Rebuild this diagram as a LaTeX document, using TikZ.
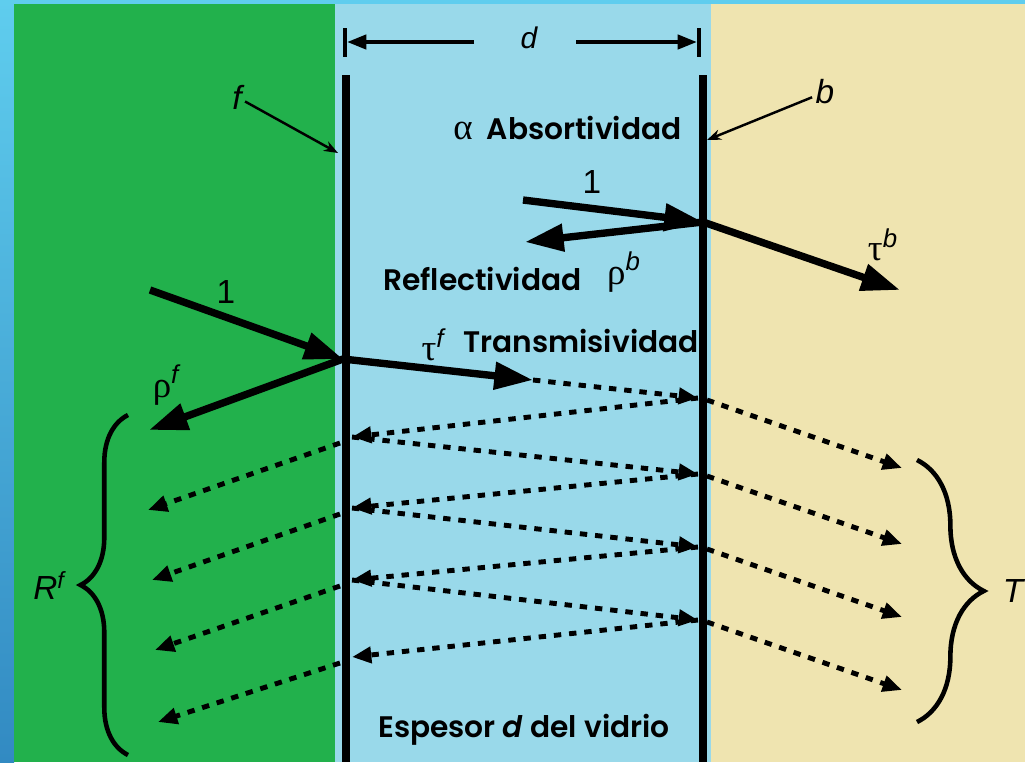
\documentclass[tikz,border=0pt]{standalone}
\usepackage{fontspec}
\setmainfont{Poppins}[UprightFont=* SemiBold, ItalicFont=* SemiBold Italic]
\newfontfamily\slantfont{Liberation Sans}
\newfontfamily\greekfont{Liberation Serif}
\usetikzlibrary{arrows.meta, decorations.pathreplacing}
\definecolor{leafgreen}{RGB}{34,177,76}
\definecolor{glassblue}{RGB}{153,217,234}
\definecolor{sandbeige}{RGB}{239,228,176}
\definecolor{framecyan}{RGB}{95,205,238}
\definecolor{framedeep}{RGB}{50,138,194}
\newcommand{\supit}[1]{\textsuperscript{\slantfont\itshape #1}}

\begin{document}
\begin{tikzpicture}[x=0.02cm, y=-0.02cm,
  ray/.style={line width=4.2pt, -{Triangle[length=22pt,width=15pt]}},
  echo/.style={line width=2.8pt, dash pattern=on 4.2pt off 4.5pt, -{Triangle[length=11pt,width=9pt]}},
  pointer/.style={line width=1.4pt, shorten <=2pt, -{Stealth[length=8pt,width=6pt]}},
  dimline/.style={line width=2.3pt, -{Triangle[length=11pt,width=8pt]}},
  wall/.style={line width=4pt},
  word/.style={font=\fontsize{16.9}{16.9}\selectfont, inner sep=0pt, anchor=base west},
  tag/.style={font=\fontsize{19}{19}\selectfont\slantfont\itshape, inner sep=0pt},
  numeral/.style={font=\fontsize{19}{19}\selectfont\slantfont, inner sep=0pt},
  greek/.style={font=\fontsize{21}{21}\selectfont\greekfont, inner sep=0pt},
  curly/.style={line width=2.6pt, decorate}]
  \useasboundingbox (0,0) rectangle (1025,762);
  % regions: outer frame, exterior, glass, interior
  \fill[framecyan] (0,0) rectangle (1025,762);
  \shade[top color=framecyan, bottom color=framedeep] (0,0) rectangle (14,762);
  \fill[leafgreen] (14,4) rectangle (335,762);
  \fill[glassblue] (335,4) rectangle (711,762);
  \fill[sandbeige] (711,4) rectangle (1025,762);
  \draw[wall] (346,75) -- (346,762);
  \draw[wall] (703,75) -- (703,762);

  % thickness d
  \draw[line width=2pt] (345,28) -- (345,57) (699,28) -- (699,57);
  \node[tag, font=\fontsize{17}{17}\selectfont\slantfont\itshape] (thick) at (529,38) {d};
  \coordinate (dl) at (347,42);
  \coordinate (dr) at (697,42);
  \coordinate (dtl) at (474,42);
  \coordinate (dtr) at (576,42);
  \draw[dimline] (dtl) -- (dl);
  \draw[dimline] (dtr) -- (dr);

  % faces f and b
  \node[tag] (flabel) at (237,97) {f};
  \coordinate (fhit) at (338,153);
  \draw[pointer] (flabel) -- (fhit);
  \node[tag] (blabel) at (825,92) {b};
  \coordinate (bhit) at (707,140);
  \draw[pointer] (blabel) -- (bhit);

  \node[word] (absor) at (453,139) {{\greekfont\fontsize{21}{21}\selectfont α}\ \ Absortividad};

  % ray hitting the back face
  \coordinate (bspot) at (703,222);
  \coordinate (srcb) at (523,200);
  \coordinate (refb) at (525,242);
  \coordinate (trb) at (900,290);
  \draw[ray] (srcb) -- (bspot);
  \draw[ray] (bspot) -- (refb);
  \draw[ray] (bspot) -- (trb);
  \node[numeral] (oneb) at (592,182) {1};
  \node[word] (refl) at (383,290) {Reflectividad};
  \node[greek] (rhob) at (624,272) {ρ\supit{b}};
  \node[greek] (taub) at (883,245) {τ\supit{b}};

  % ray hitting the front face
  \coordinate (fspot) at (343,359);
  \coordinate (srcf) at (150,290);
  \coordinate (reff) at (149,430);
  \coordinate (trf) at (533,380);
  \draw[ray] (srcf) -- (fspot);
  \draw[ray] (fspot) -- (reff);
  \draw[ray] (fspot) -- (trf);
  \node[numeral] (onef) at (226,292) {1};
  \node[greek] (rhof) at (166,385) {ρ\supit{f}};
  \node[greek] (tauf) at (433,345) {τ\supit{f}};
  \node[word] (trans) at (463,352) {Transmisividad};

  % multiple reflections inside the glass
  \foreach \i/\yr/\yl/\xq/\yq in {1/398/437/148/510, 2/474/508/152/580,
                                  3/547/580/155/650, 4/620/657/158/722} {
    \coordinate (R\i) at (698,\yr);
    \coordinate (Rout\i) at (707,\yr+2);
    \coordinate (T\i) at (902,\yr+70);
    \coordinate (L\i) at (352,\yl);
    \coordinate (Lout\i) at (340,\yl+6);
    \coordinate (Q\i) at (\xq,\yq);
  }
  \draw[echo] (trf) -- (R1);
  \foreach \i in {1,...,4} {
    \draw[echo] (R\i) -- (L\i);
    \draw[echo] (Rout\i) -- (T\i);
    \draw[echo] (Lout\i) -- (Q\i);
  }
  \foreach \i/\j in {1/2, 2/3, 3/4}
    \draw[echo] (L\i) -- (R\j);

  % totals
  \coordinate (rtop) at (128,415);
  \coordinate (rbot) at (128,755);
  \draw[curly, decoration={brace, amplitude=27pt}] (rbot) -- (rtop);
  \node[tag] (rlab) at (49,586) {R\textsuperscript{f}};
  \coordinate (ttop) at (917,460);
  \coordinate (tbot) at (917,722);
  \draw[curly, decoration={brace, amplitude=38pt}] (ttop) -- (tbot);
  \node[tag] (tlab) at (1013,591) {T};

  \node[word] (esp) at (378,737) {Espesor \textit{d} del vidrio};
\end{tikzpicture}
\end{document}
